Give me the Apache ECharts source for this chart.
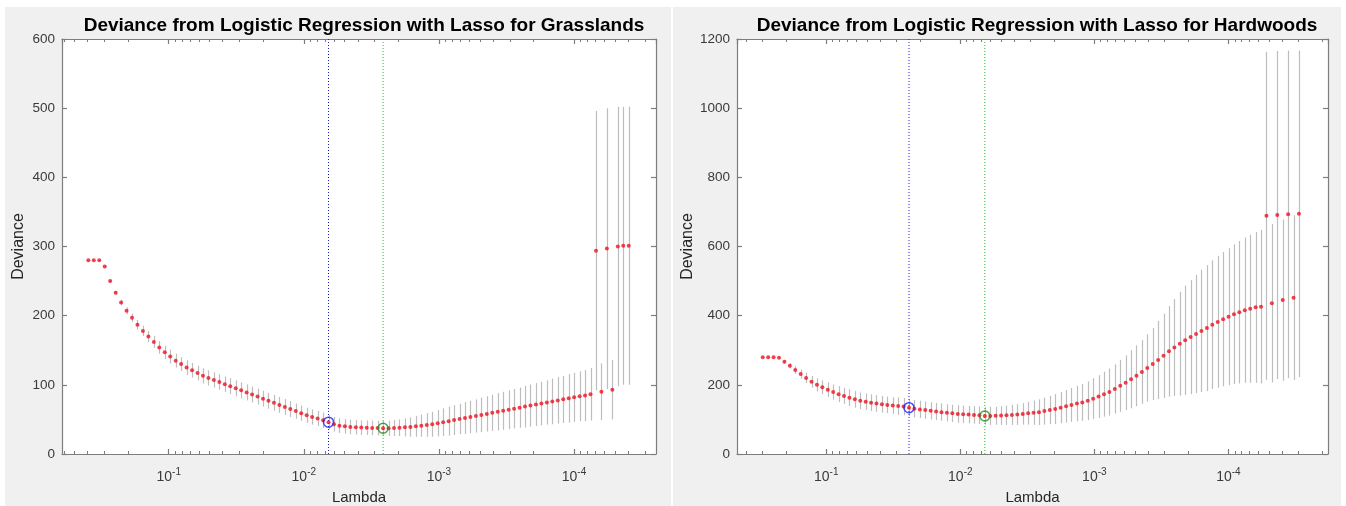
<!DOCTYPE html>
<html>
<head>
<meta charset="utf-8">
<script src="https://cdn.jsdelivr.net/npm/echarts@6/dist/echarts.min.js"></script>
<style>
html,body{margin:0;padding:0;background:#ffffff;}
#chart{width:1346px;height:506px;}
</style>
</head>
<body>
<div id="chart"></div>
<script>
// ---------------- data ----------------
const lambdaGrass = [
0.39355,0.35859,0.32673,0.29771,0.27126,0.24716,0.22520,0.20520,0.18697,0.17036,
0.15522,0.14144,0.12887,0.11742,0.10699,0.097487,0.088826,0.080935,0.073745,0.067194,
0.061225,0.055786,0.050830,0.046314,0.042200,0.038450,0.035034,0.031922,0.029086,0.026502,
0.024148,0.022003,0.020049,0.018268,0.016645,0.015167,0.013819,0.012591,0.011473,0.010454,
0.0095245,0.0086784,0.0079075,0.0072051,0.0065650,0.0059818,0.0054504,0.0049662,0.0045250,0.0041230,
0.0037567,0.0034229,0.0031188,0.0028417,0.0025892,0.0023592,0.0021496,0.0019586,0.0017846,0.0016260,
0.0014816,0.0013499,0.0012300,0.0011207,0.0010211,0.00093039,0.00084774,0.00077243,0.00070381,0.00064129,
0.00058441,0.00053249,0.00048518,0.00044208,0.00040280,0.00036702,0.00033442,0.00030471,0.00027764,0.00025298,
0.00023050,0.00021002,0.00019136,0.00017436,0.00015887,0.00014475,0.00013190,0.00012018,0.00010950,0.000099772,
0.000090909,0.000082833,0.000075475,0.000068771,0.000062662,0.000057096,0.000052023,0.000047402,0.000043191,0.000039354
];
const devianceGrass = [
280,280,280,271,250,233,219,207,197,187,
178,170,162,154,147,141,135,130,125,121,
117,113,110,107,104,101,98,95,92,89,
86,83,80,77,74,71,68,65,62,59,
56,53.5,51.5,48.8,46,43,41,40,39,38.6,
38.2,37.9,37.7,37.5,37.2,37.3,37.6,38,38.5,39,
40,41,42,43,44.5,46,47.5,49,50.5,52,
53.5,55,56.5,58,59.5,61,62.5,64,65.5,67,
68.5,70,71.5,73,74.5,76,77.5,79,80.5,82,
83.5,84.5,86.5,294,90,297,93,300,301,301
];
const seGrass = [
0.5,0.5,0.5,1,2,3,4,5,6,7,
7.5,8,8.5,9,9.5,10,10,10,10.5,10.5,
10.5,11,11,11,11,11,11.5,11.5,11.5,11.5,
11.5,11.5,11.5,11.5,11.5,11.5,11.5,11.5,11,11,
11,11,11,11,10.5,10.5,10.5,10.5,10.5,10.5,
10.5,10.5,10.5,10.5,10.5,11,11.5,12,13,14,
15,16,17,18,19,20,21,21.5,22,23,
23.5,24,25,25.5,26,27,27.5,28,28.5,29,
30,30.5,31,31.5,32,33,33.5,34,35,35.5,
36,37,38,202,41,203,43,202,201,201
];
const idxMinGrass = 54;
const idx1SEGrass = 44;

const lambdaHard = [
0.29771,0.27126,0.24716,0.22520,0.20520,0.18697,0.17036,0.15522,0.14144,0.12887,
0.11742,0.10699,0.097487,0.088826,0.080935,0.073745,0.067194,0.061225,0.055786,0.050830,
0.046314,0.042200,0.038450,0.035034,0.031922,0.029086,0.026502,0.024148,0.022003,0.020049,
0.018268,0.016645,0.015167,0.013819,0.012591,0.011473,0.010454,0.0095245,0.0086784,0.0079075,
0.0072051,0.0065650,0.0059818,0.0054504,0.0049662,0.0045250,0.0041230,0.0037567,0.0034229,0.0031188,
0.0028417,0.0025892,0.0023592,0.0021496,0.0019586,0.0017846,0.0016260,0.0014816,0.0013499,0.0012300,
0.0011207,0.0010211,0.00093039,0.00084774,0.00077243,0.00070381,0.00064129,0.00058441,0.00053249,0.00048518,
0.00044208,0.00040280,0.00036702,0.00033442,0.00030471,0.00027764,0.00025298,0.00023050,0.00021002,0.00019136,
0.00017436,0.00015887,0.00014475,0.00013190,0.00012018,0.00010950,0.000099772,0.000090909,0.000082833,0.000075475,
0.000068771,0.000062662,0.000057096,0.000052023,0.000047402,0.000043191,0.000039354,0.000035858,0.000032673,0.000029771
];
const devianceHard = [
280,280,280,278,267,255,243,231,220,209,
200,193,186,179,173,168,163,158,154,151,
148.5,146,144,142,140,138.5,137,134,131,129,
127,125,123,121,119,117.5,116,115,114,113,
112,110,110.2,110.6,111.2,112,113,114,116,118,
119.5,121,124,127,130,134,138,142,146,149,
154,160,166,173,179,188,197,206,216,226,
237,249,260,272,284,297,308,319,329,338,
347,356,364,374,382,390,397,404,410,416,
420,424,426,689,436,691,445,693,452,695
];
const seHard = [
1,1,1,2,5,8,11,13,15,17,
19,20,21,22,23,23,24,24,24,24,
24,24,24,24,24,25,25,25,25,25,
25,25,25,25,25,25,25,25,25,25,
25,25,26,26,27,28,29,30,31,33,
35,37,39,41,43,45,47,49,51,53,
56,59,62,65,68,71,75,79,84,88,
92,97,104,113,122,131,140,150,158,165,
171,177,182,186,190,194,198,202,206,210,
214,218,222,474,229,474,233,474,238,472
];
const idxMinHard = 41;
const idx1SEHard = 27;

const titles = [
  'Deviance from Logistic Regression with Lasso for Grasslands',
  'Deviance from Logistic Regression with Lasso for Hardwoods'
];
const minorTickValues = [
  2e-5,3e-5,4e-5,5e-5,6e-5,7e-5,8e-5,9e-5,
  2e-4,3e-4,4e-4,5e-4,6e-4,7e-4,8e-4,9e-4,
  2e-3,3e-3,4e-3,5e-3,6e-3,7e-3,8e-3,9e-3,
  2e-2,3e-2,4e-2,5e-2,6e-2,7e-2,8e-2,9e-2,
  2e-1,3e-1,4e-1,5e-1,6e-1
];
const yRanges = [[0, 600, 100], [0, 1200, 200]];
const xRanges = [[2.472e-5, 0.6166], [1.807e-5, 0.4634]];

// ---------------- layout & style ----------------
const FONT = "'Liberation Sans', Arial, Helvetica, sans-serif";
const AXIS_COLOR = '#7d7d7d';
const LABEL_COLOR = '#3a3a3a';
const layouts = [
  {left: 62, top: 39, width: 594, height: 415, titleX: 359},
  {left: 737, top: 39, width: 591, height: 415, titleX: 1032}
];

const panels = [
  {lambda: lambdaGrass, dev: devianceGrass, se: seGrass, iMin: idxMinGrass, i1se: idx1SEGrass},
  {lambda: lambdaHard, dev: devianceHard, se: seHard, iMin: idxMinHard, i1se: idx1SEHard}
];

function supLabel(v) {
  const lg = Math.log10(v);
  const e = Math.round(lg);
  if (Math.abs(lg - e) > 1e-6) return '';
  return '{b|10}{s|' + e + '}';
}

const option = {
  animation: false,
  backgroundColor: '#ffffff',
  textStyle: {fontFamily: FONT},
  graphic: [
    {type: 'rect', z: -100, silent: true, shape: {x: 5, y: 7, width: 666, height: 499}, style: {fill: '#f0f0f0'}},
    {type: 'rect', z: -100, silent: true, shape: {x: 673, y: 7, width: 668, height: 499}, style: {fill: '#f0f0f0'}}
  ],
  title: [],
  grid: [],
  xAxis: [],
  yAxis: [],
  series: []
};

panels.forEach(function (p, k) {
  const L = layouts[k];
  const yr = yRanges[k];
  const xr = xRanges[k];
  option.title.push({
    text: titles[k], left: L.titleX, top: 11, textAlign: 'center',
    textStyle: {fontFamily: FONT, fontSize: 19, fontWeight: 'bold', color: '#000', lineHeight: 19}
  });
  option.grid.push({left: L.left, top: L.top, width: L.width, height: L.height,
    show: true, backgroundColor: '#ffffff', borderWidth: 0, containLabel: false,
    outerBoundsMode: 'none'});

  const lineStyle = {color: AXIS_COLOR, width: 1.2};
  const baseX = {
    type: 'log', logBase: 10, gridIndex: k, inverse: true, min: xr[0], max: xr[1],
    axisLine: {show: true, onZero: false, lineStyle: lineStyle},
    axisTick: {show: true, inside: true, length: 5, lineStyle: lineStyle},
    splitLine: {show: false}, minorTick: {show: false}, minorSplitLine: {show: false}
  };
  option.xAxis.push(Object.assign({}, baseX, {
    position: 'bottom',
    axisLabel: {
      show: true, margin: 13, showMinLabel: false, showMaxLabel: false,
      formatter: supLabel, color: LABEL_COLOR,
      rich: {
        b: {fontSize: 14, fontFamily: FONT, color: LABEL_COLOR, verticalAlign: 'bottom'},
        s: {fontSize: 10, fontFamily: FONT, color: LABEL_COLOR, verticalAlign: 'bottom', padding: [0, 0, 7, 0]}
      }
    },
    name: 'Lambda', nameLocation: 'middle', nameGap: 36,
    nameTextStyle: {fontSize: 15, color: '#262626', fontFamily: FONT}
  }));
  option.xAxis.push(Object.assign({}, baseX, {position: 'top', axisLabel: {show: false}}));

  const baseY = {
    type: 'value', gridIndex: k, min: yr[0], max: yr[1], interval: yr[2],
    axisLine: {show: true, onZero: false, lineStyle: lineStyle},
    axisTick: {show: true, inside: true, length: 5, lineStyle: lineStyle},
    splitLine: {show: false}
  };
  option.yAxis.push(Object.assign({}, baseY, {
    position: 'left',
    axisLabel: {show: true, margin: 7, fontSize: 13.5, color: LABEL_COLOR, fontFamily: FONT,
      formatter: function (v) { return String(v); }},
    name: 'Deviance', nameLocation: 'middle', nameGap: 35, nameRotate: 90,
    nameTextStyle: {fontSize: 16, color: '#262626', fontFamily: FONT}
  }));
  option.yAxis.push(Object.assign({}, baseY, {position: 'right', axisLabel: {show: false}}));

  const xi = 2 * k, yi = 2 * k;

  // error bars
  option.series.push({
    type: 'custom', xAxisIndex: xi, yAxisIndex: yi, silent: true, z: 1,
    data: p.lambda.map(function (l, i) { return [l, p.dev[i] - p.se[i], p.dev[i] + p.se[i]]; }),
    encode: {x: 0, y: [1, 2]},
    renderItem: function (params, api) {
      const a = api.coord([api.value(0), api.value(1)]);
      const b = api.coord([api.value(0), api.value(2)]);
      const x = Math.round(a[0]) + 0.5;
      return {type: 'line', shape: {x1: x, y1: a[1], x2: x, y2: b[1]},
        style: {stroke: '#bdbdbd', lineWidth: 1.2}};
    }
  });
  // vertical dotted lines
  option.series.push({
    type: 'line', xAxisIndex: xi, yAxisIndex: yi, silent: true, z: 2, symbol: 'none',
    data: [[p.lambda[p.i1se], yr[0]], [p.lambda[p.i1se], yr[1]]],
    lineStyle: {color: '#1f1fd0', width: 1, type: [1, 2]}
  });
  option.series.push({
    type: 'line', xAxisIndex: xi, yAxisIndex: yi, silent: true, z: 2, symbol: 'none',
    data: [[p.lambda[p.iMin], yr[0]], [p.lambda[p.iMin], yr[1]]],
    lineStyle: {color: '#2eb82e', width: 1, type: [1, 2]}
  });
  // red dots
  option.series.push({
    type: 'scatter', xAxisIndex: xi, yAxisIndex: yi, silent: true, z: 3,
    symbol: 'circle', symbolSize: 4,
    itemStyle: {color: '#ee1122'},
    data: p.lambda.map(function (l, i) { return [l, p.dev[i]]; })
  });
  // circles
  option.series.push({
    type: 'scatter', xAxisIndex: xi, yAxisIndex: yi, silent: true, z: 4,
    symbol: 'circle', symbolSize: 10,
    itemStyle: {color: 'rgba(0,0,0,0)', borderColor: '#2020ff', borderWidth: 1.5},
    data: [[p.lambda[p.i1se], p.dev[p.i1se]]]
  });
  option.series.push({
    type: 'scatter', xAxisIndex: xi, yAxisIndex: yi, silent: true, z: 4,
    symbol: 'circle', symbolSize: 10,
    itemStyle: {color: 'rgba(0,0,0,0)', borderColor: '#1e8c1e', borderWidth: 1.5},
    data: [[p.lambda[p.iMin], p.dev[p.iMin]]]
  });
  // minor ticks of the log axes (bottom and top)
  option.series.push({
    type: 'custom', xAxisIndex: xi, yAxisIndex: yi, silent: true, z: 5,
    data: minorTickValues.filter(function (v) { return v > xr[0] && v < xr[1]; })
      .map(function (v) { return [v, yr[0]]; }),
    encode: {x: 0, y: 1},
    renderItem: function (params, api) {
      const b = api.coord([api.value(0), yr[0]]);
      const t = api.coord([api.value(0), yr[1]]);
      const x = Math.round(b[0]) + 0.5;
      const st = {stroke: AXIS_COLOR, lineWidth: 1};
      return {type: 'group', children: [
        {type: 'line', shape: {x1: x, y1: b[1], x2: x, y2: b[1] - 3}, style: st},
        {type: 'line', shape: {x1: x, y1: t[1], x2: x, y2: t[1] + 3}, style: st}
      ]};
    }
  });
});

const chart = echarts.init(document.getElementById('chart'), null, {renderer: 'canvas'});
chart.setOption(option);
</script>
</body>
</html>
